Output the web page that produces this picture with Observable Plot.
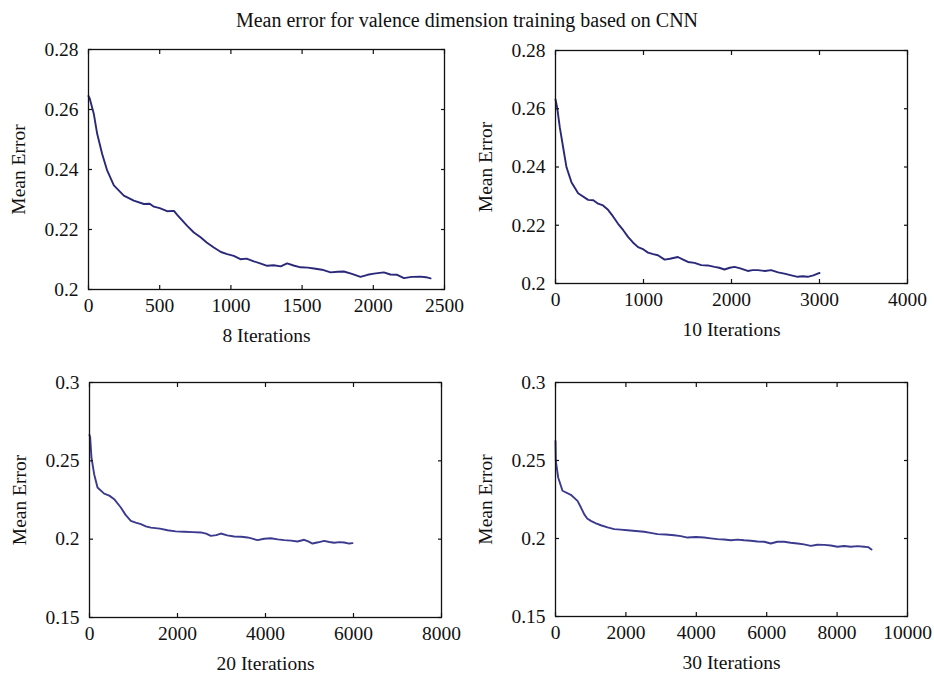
<!DOCTYPE html>
<html><head><meta charset="utf-8">
<script src="https://cdn.jsdelivr.net/npm/d3@7"></script>
<script src="https://cdn.jsdelivr.net/npm/@observablehq/plot@0.6"></script>
<style>
body{margin:0;background:#fff;}
#wrap{position:relative;width:934px;height:676px;overflow:hidden;font-family:"Liberation Serif",serif;background:#fff;}
#title{position:absolute;left:0;width:934px;top:10px;text-align:center;font-size:20px;line-height:20px;color:#111;}
.panel{position:absolute;}
.panel svg text{font-family:"Liberation Serif",serif !important;font-variant-numeric:normal !important;}
</style></head><body>
<div id="wrap"><div id="title"></div></div>
<script>
const titleText = "Mean error for valence dimension training based on CNN";
const yAxisTitle = "Mean Error";

// 8 Iterations
const it8Label = "8 Iterations";
const it8X = [0, 9, 37, 61, 96, 131, 178, 248, 318, 389, 430, 459, 500, 552, 600, 623, 693, 740, 787, 830, 880, 930, 974, 1020, 1067, 1110, 1161, 1210, 1255, 1300, 1350, 1395, 1440, 1489, 1540, 1583, 1640, 1700, 1750, 1793, 1850, 1910, 1960, 2004, 2074, 2120, 2168, 2215, 2270, 2332, 2370, 2402];
const it8Y = [0.2645, 0.2636, 0.2586, 0.2519, 0.2452, 0.2397, 0.2347, 0.2313, 0.2296, 0.2285, 0.2286, 0.2276, 0.2271, 0.2261, 0.2262, 0.2249, 0.2212, 0.2190, 0.2174, 0.2157, 0.2140, 0.2125, 0.2118, 0.2112, 0.2101, 0.2103, 0.2094, 0.2086, 0.2079, 0.2081, 0.2077, 0.2087, 0.2080, 0.2074, 0.2073, 0.2070, 0.2066, 0.2057, 0.2059, 0.2060, 0.2052, 0.2042, 0.2049, 0.2053, 0.2057, 0.2050, 0.2049, 0.2038, 0.2042, 0.2043, 0.2041, 0.2037];
const it8XTicks = [0, 500, 1000, 1500, 2000, 2500];
const it8YTicks = [0.2, 0.22, 0.24, 0.26, 0.28];
const it8YLabels = ["0.2", "0.22", "0.24", "0.26", "0.28"];

// 10 Iterations
const it10Label = "10 Iterations";
const it10X = [0, 19, 49, 87, 125, 181, 257, 371, 430, 484, 540, 597, 650, 711, 770, 824, 880, 938, 1000, 1051, 1110, 1164, 1240, 1300, 1391, 1450, 1505, 1580, 1656, 1730, 1807, 1860, 1920, 1980, 2034, 2100, 2185, 2240, 2299, 2380, 2450, 2530, 2601, 2680, 2752, 2810, 2866, 2930, 2979, 3000];
const it10Y = [0.2632, 0.2604, 0.2536, 0.2467, 0.2399, 0.2348, 0.2310, 0.2287, 0.2286, 0.2274, 0.2268, 0.2253, 0.2232, 0.2205, 0.2183, 0.2160, 0.2141, 0.2125, 0.2117, 0.2106, 0.2101, 0.2097, 0.2082, 0.2085, 0.2091, 0.2082, 0.2074, 0.2071, 0.2063, 0.2062, 0.2057, 0.2054, 0.2048, 0.2054, 0.2057, 0.2052, 0.2043, 0.2046, 0.2046, 0.2043, 0.2046, 0.2038, 0.2034, 0.2028, 0.2023, 0.2025, 0.2023, 0.2028, 0.2034, 0.2036];
const it10XTicks = [0, 1000, 2000, 3000, 4000];
const it10YTicks = [0.2, 0.22, 0.24, 0.26, 0.28];
const it10YLabels = ["0.2", "0.22", "0.24", "0.26", "0.28"];

// 20 Iterations
const it20Label = "20 Iterations";
const it20X = [0, 15, 45, 106, 182, 333, 450, 561, 712, 820, 939, 1050, 1167, 1280, 1394, 1600, 1773, 1960, 2152, 2350, 2530, 2650, 2758, 2880, 2985, 3130, 3288, 3450, 3591, 3700, 3818, 3970, 4121, 4280, 4424, 4580, 4727, 4879, 4970, 5068, 5200, 5333, 5450, 5561, 5680, 5788, 5900, 5977];
const it20Y = [0.2665, 0.2649, 0.2521, 0.2415, 0.2330, 0.2291, 0.2278, 0.2255, 0.2202, 0.2155, 0.2117, 0.2106, 0.2096, 0.2082, 0.2074, 0.2067, 0.2057, 0.2050, 0.2047, 0.2045, 0.2043, 0.2035, 0.2021, 0.2026, 0.2036, 0.2024, 0.2017, 0.2015, 0.2011, 0.2003, 0.1994, 0.2003, 0.2006, 0.1999, 0.1994, 0.1991, 0.1985, 0.1996, 0.1986, 0.1972, 0.1980, 0.1989, 0.1982, 0.1977, 0.1981, 0.1979, 0.1972, 0.1975];
const it20XTicks = [0, 2000, 4000, 6000, 8000];
const it20YTicks = [0.15, 0.2, 0.25, 0.3];
const it20YLabels = ["0.15", "0.2", "0.25", "0.3"];

// 30 Iterations
const it30Label = "30 Iterations";
const it30X = [0, 9, 76, 199, 436, 625, 720, 814, 900, 1004, 1150, 1288, 1480, 1667, 1850, 2045, 2280, 2519, 2700, 2898, 3130, 3371, 3560, 3750, 3990, 4223, 4410, 4602, 4790, 4981, 5170, 5360, 5550, 5739, 5930, 6117, 6300, 6496, 6680, 6875, 7060, 7254, 7440, 7633, 7820, 8011, 8200, 8390, 8580, 8769, 8880, 8977];
const it30Y = [0.2626, 0.2498, 0.2391, 0.2306, 0.2280, 0.2241, 0.2200, 0.2156, 0.2128, 0.2113, 0.2097, 0.2085, 0.2071, 0.2060, 0.2057, 0.2053, 0.2048, 0.2043, 0.2036, 0.2028, 0.2026, 0.2021, 0.2015, 0.2006, 0.2010, 0.2006, 0.2001, 0.1996, 0.1994, 0.1989, 0.1993, 0.1989, 0.1986, 0.1981, 0.1979, 0.1968, 0.1979, 0.1979, 0.1973, 0.1968, 0.1962, 0.1953, 0.1960, 0.1959, 0.1955, 0.1947, 0.1952, 0.1947, 0.1951, 0.1947, 0.1945, 0.1929];
const it30XTicks = [0, 2000, 4000, 6000, 8000, 10000];
const it30YTicks = [0.15, 0.2, 0.25, 0.3];
const it30YLabels = ["0.15", "0.2", "0.25", "0.3"];

document.getElementById("title").textContent = titleText;

const panels = [
  {xs: it8X, ys: it8Y, label: it8Label, xTicks: it8XTicks, yTicks: it8YTicks, yLabels: it8YLabels,
   left: 0, top: 0, width: 467, height: 350, mt: 49, mb: 61, ml: 88, mr: 23, lox: 52, color: "#2a2878"},
  {xs: it10X, ys: it10Y, label: it10Label, xTicks: it10XTicks, yTicks: it10YTicks, yLabels: it10YLabels,
   left: 467, top: 0, width: 467, height: 350, mt: 50, mb: 67, ml: 88, mr: 27, lox: 52, color: "#2a2878"},
  {xs: it20X, ys: it20Y, label: it20Label, xTicks: it20XTicks, yTicks: it20YTicks, yLabels: it20YLabels,
   left: 0, top: 350, width: 467, height: 326, mt: 32, mb: 59, ml: 89, mr: 26, lox: 52, color: "#3b3a8e"},
  {xs: it30X, ys: it30Y, label: it30Label, xTicks: it30XTicks, yTicks: it30YTicks, yLabels: it30YLabels,
   left: 467, top: 350, width: 467, height: 326, mt: 32, mb: 60, ml: 88, mr: 27, lox: 52, color: "#3b3a8e"}
];

const wrap = document.getElementById("wrap");
const serif = "'Liberation Serif', serif";
for (const p of panels) {
  const data = p.xs.map((x, i) => ({x, y: p.ys[i]}));
  const xDom = [p.xTicks[0], p.xTicks[p.xTicks.length - 1]];
  const yDom = [p.yTicks[0], p.yTicks[p.yTicks.length - 1]];
  const yFmt = d => p.yLabels[p.yTicks.indexOf(d)];
  const chart = Plot.plot({
    width: p.width, height: p.height,
    marginTop: p.mt, marginBottom: p.mb, marginLeft: p.ml, marginRight: p.mr,
    style: {fontFamily: serif, fontSize: "19.5px", background: "transparent", overflow: "visible", color: "#111"},
    x: {domain: xDom},
    y: {domain: yDom},
    marks: [
      Plot.line(data, {x: "x", y: "y", stroke: p.color, strokeWidth: 1.9}),
      Plot.frame({stroke: "#111", strokeWidth: 1.3}),
      Plot.axisX({anchor: "bottom", ticks: p.xTicks, tickSize: -4, tickPadding: 12.5, tickFormat: d => String(d),
        fontFamily: serif, fontVariant: "normal",
        label: p.label, labelAnchor: "center", labelOffset: p.lox, labelArrow: "none", strokeWidth: 1.2}),
      Plot.axisX({anchor: "top", ticks: p.xTicks, tickSize: -4, fill: "none", label: null, strokeWidth: 1.2}),
      Plot.axisY({anchor: "left", ticks: p.yTicks, tickSize: -4, tickPadding: 14, tickFormat: yFmt,
        fontFamily: serif, fontVariant: "normal",
        label: yAxisTitle, labelAnchor: "center", labelOffset: 77, labelArrow: "none", strokeWidth: 1.2}),
      Plot.axisY({anchor: "right", ticks: p.yTicks, tickSize: -4, fill: "none", label: null, strokeWidth: 1.2})
    ]
  });
  const div = document.createElement("div");
  div.className = "panel";
  div.style.left = p.left + "px";
  div.style.top = p.top + "px";
  div.appendChild(chart);
  wrap.appendChild(div);
}
</script>
</body></html>
